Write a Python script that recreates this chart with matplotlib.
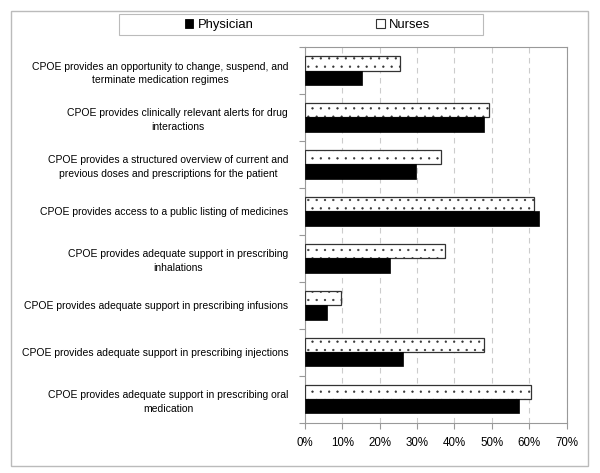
import numpy as np
import matplotlib.pyplot as plt
from matplotlib.patches import Rectangle, Patch

plt.rcParams['font.family'] = ['Liberation Sans', 'DejaVu Sans']
plt.rcParams['hatch.linewidth'] = 0.4

labels = [
    "CPOE provides an opportunity to change, suspend, and\nterminate medication regimes",
    "CPOE provides clinically relevant alerts for drug\ninteractions",
    "CPOE provides a structured overview of current and\nprevious doses and prescriptions for the patient",
    "CPOE provides access to a public listing of medicines",
    "CPOE provides adequate support in prescribing\ninhalations",
    "CPOE provides adequate support in prescribing infusions",
    "CPOE provides adequate support in prescribing injections",
    "CPOE provides adequate support in prescribing oral\nmedication",
]
physician = [15.3, 48.0, 29.7, 62.6, 22.7, 5.8, 26.3, 57.3]
nurses = [25.4, 49.3, 36.5, 61.2, 37.4, 9.6, 47.9, 60.5]

fig = plt.figure(figsize=(6, 4.73), dpi=100)
ax = fig.add_axes([0.508, 0.106, 0.4365, 0.7946])

y = np.arange(len(labels))
h = 0.3
ax.barh(y - h / 2, nurses, height=h, color='white', edgecolor='#333333',
        hatch='..', lw=0.9, zorder=3)
ax.barh(y + h / 2, physician, height=h, color='black', edgecolor='black',
        lw=0.5, zorder=3)

ax.set_xlim(0, 70)
ax.set_ylim(len(labels) - 0.5, -0.5)
ax.set_xticks(np.arange(0, 71, 10))
ax.set_xticklabels([f"{v}%" for v in range(0, 71, 10)], fontsize=8.3)
ax.xaxis.grid(True, ls=(0, (5, 4)), color='#cccccc', lw=0.8, zorder=0)

ax.set_yticks(np.arange(-0.5, len(labels), 1))
ax.set_yticklabels([])
ax.set_yticks(y, minor=True)
ax.set_yticklabels(labels, minor=True, fontsize=7.5, ha='right',
                   multialignment='center', linespacing=1.45)
ax.tick_params(axis='y', which='minor', length=0, pad=12)
ax.tick_params(axis='both', which='major', length=4, color='#999999')
ax.tick_params(axis='x', pad=6)

for s in ax.spines.values():
    s.set_color('#999999')

handles = [Patch(facecolor='black', edgecolor='black', lw=0.6),
           Patch(facecolor='white', edgecolor='#333333', lw=0.8)]
leg = fig.legend(handles, ['Physician', 'Nurses'], ncol=2, frameon=False,
                 loc='center', bbox_to_anchor=(0.5125, 0.9465),
                 fontsize=9.4, handlelength=0.65, handleheight=0.65,
                 handletextpad=0.35, columnspacing=9.4, borderpad=0)

fig.patches.append(Rectangle((119 / 600, 1 - 35.5 / 473), 364 / 600, 21.5 / 473,
                             transform=fig.transFigure, fill=False,
                             edgecolor='#bbbbbb', lw=0.8))
fig.patches.append(Rectangle((11 / 600, 1 - 466 / 473), 577 / 600, 455 / 473,
                             transform=fig.transFigure, fill=False,
                             edgecolor='#bbbbbb', lw=1))

fig.savefig('out.png', dpi=100)
